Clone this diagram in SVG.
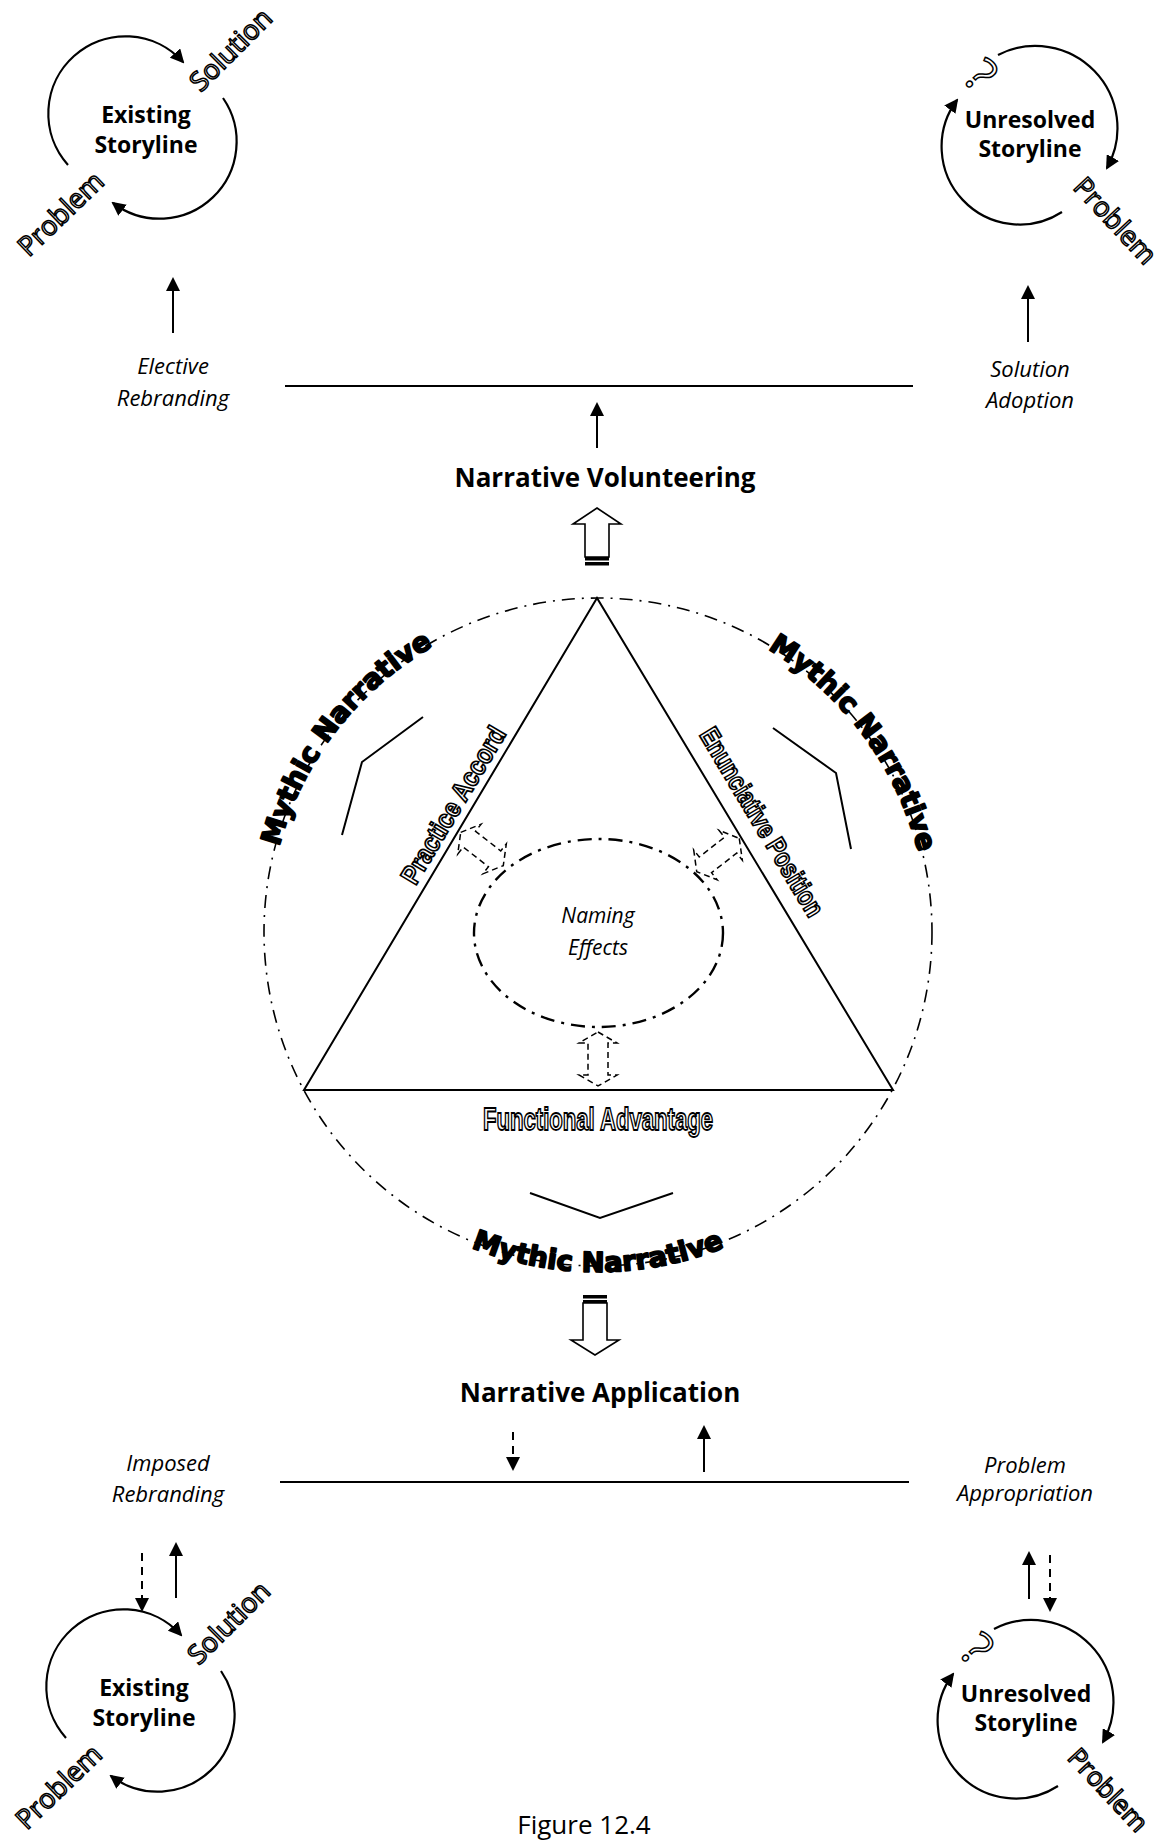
<svg xmlns="http://www.w3.org/2000/svg" width="1170" height="1841" viewBox="0 0 1170 1841">
  <defs>
    <style>
      .ln { fill: none; stroke: #000; stroke-width: 2; }
      .dash { fill: none; stroke: #000; stroke-width: 2; stroke-dasharray: 8 6; }
      .arc { fill: none; stroke: #000; stroke-width: 2.2; }
      .lbl { font-family: "Open Sans", "Liberation Sans", sans-serif; font-size: 22px; font-style: italic; fill: #000; text-anchor: middle; }
      .title { font-family: "Open Sans", "Liberation Sans", sans-serif; font-size: 26px; font-weight: bold; fill: #000; text-anchor: middle; }
      .story { font-family: "Open Sans", "Liberation Sans", sans-serif; font-size: 23px; font-weight: bold; fill: #000; text-anchor: middle; }
      .ol { font-family: "Open Sans", "Liberation Sans", sans-serif; font-size: 27px; fill: #fff; stroke: #000; stroke-width: 1.5; text-anchor: middle; }
      .cond { font-family: "Liberation Sans", "Arial", sans-serif; font-weight: bold; fill: #fff; stroke: #000; stroke-width: 1.8; }
      .myth { font-family: "DejaVu Sans", "Liberation Sans", sans-serif; font-weight: bold; font-size: 27.5px; fill: #000; stroke: #000; stroke-width: 1.8; stroke-linejoin: round; text-anchor: middle; }
      .block { fill: #fff; stroke: #000; stroke-width: 1.6; }
      .dblk { fill: none; stroke: #000; stroke-width: 1.5; stroke-dasharray: 6 4; }
    </style>
    <marker id="ah" viewBox="0 0 14 14" refX="12" refY="7" markerWidth="14" markerHeight="14" markerUnits="userSpaceOnUse" orient="auto">
      <path d="M0,0 L14,7 L0,14 z" fill="#000"/>
    </marker>
    <!-- hollow dashed double-headed arrow, drawn around its own centre -->
    <polygon id="dbl" class="dblk" points="0,-27 19,-16 10,-16 10,16 19,16 0,27 -19,16 -10,16 -10,-16 -19,-16"/>
    <!-- circle paths carrying the arched labels -->
    <path id="archL" d="M283.3,1031.2 A330,330 0 0 1 612.4,602.3"/>
    <path id="archR" d="M589.4,602.1 A330,330 0 0 1 910.9,1036.7"/>
    <path id="archB" d="M319.5,1127 A340,340 0 0 0 876.5,1127"/>
  </defs>

  <rect width="1170" height="1841" fill="#fff"/>

  <!-- existing storyline, upper left -->
  <g id="existing-top">
    <path class="arc" d="M68,165 A77,77 0 0 1 183,62" marker-end="url(#ah)"/>
    <path class="arc" d="M223,98 A77,77 0 0 1 113,203" marker-end="url(#ah)"/>
    <text class="story" x="146" y="123">Existing</text>
    <text class="story" x="146" y="153">Storyline</text>
    <text class="ol" transform="translate(231,50) rotate(-45)" y="9">Solution</text>
    <text class="ol" transform="translate(61,214) rotate(-44)" y="9">Problem</text>
  </g>

  <!-- unresolved storyline, upper right -->
  <g id="unresolved-top">
    <path class="arc" d="M998,55 A82,82 0 0 1 1107,168" marker-end="url(#ah)"/>
    <path class="arc" d="M1062,212 A78,78 0 0 1 957,100" marker-end="url(#ah)"/>
    <text class="story" x="1030" y="128">Unresolved</text>
    <text class="story" x="1030" y="157">Storyline</text>
    <text class="ol" transform="translate(981,75) rotate(45)" y="17" style="font-size:48px">?</text>
    <text class="ol" transform="translate(1115,221) rotate(47)" y="9">Problem</text>
  </g>

  <!-- existing storyline, lower left -->
  <g id="existing-bottom" transform="translate(-2,1573)">
    <path class="arc" d="M68,165 A77,77 0 0 1 183,62" marker-end="url(#ah)"/>
    <path class="arc" d="M223,98 A77,77 0 0 1 113,203" marker-end="url(#ah)"/>
    <text class="story" x="146" y="123">Existing</text>
    <text class="story" x="146" y="153">Storyline</text>
    <text class="ol" transform="translate(231,50) rotate(-45)" y="9">Solution</text>
    <text class="ol" transform="translate(61,214) rotate(-44)" y="9">Problem</text>
  </g>

  <!-- unresolved storyline, lower right -->
  <g id="unresolved-bottom" transform="translate(-4,1574)">
    <path class="arc" d="M998,55 A82,82 0 0 1 1107,168" marker-end="url(#ah)"/>
    <path class="arc" d="M1062,212 A78,78 0 0 1 957,100" marker-end="url(#ah)"/>
    <text class="story" x="1030" y="128">Unresolved</text>
    <text class="story" x="1030" y="157">Storyline</text>
    <text class="ol" transform="translate(981,75) rotate(45)" y="17" style="font-size:48px">?</text>
    <text class="ol" transform="translate(1112,216) rotate(47)" y="9" style="font-size:26px">Problem</text>
  </g>

  <!-- side labels -->
  <g id="elective-rebranding">
    <text class="lbl" x="173" y="374">Elective</text>
    <text class="lbl" x="173" y="406">Rebranding</text>
  </g>
  <g id="solution-adoption">
    <text class="lbl" x="1030" y="377">Solution</text>
    <text class="lbl" x="1030" y="408">Adoption</text>
  </g>
  <g id="imposed-rebranding">
    <text class="lbl" x="168" y="1471">Imposed</text>
    <text class="lbl" x="168" y="1502">Rebranding</text>
  </g>
  <g id="problem-appropriation">
    <text class="lbl" x="1025" y="1473">Problem</text>
    <text class="lbl" x="1025" y="1501">Appropriation</text>
  </g>

  <g id="narrative-volunteering">
    <text class="title" x="605" y="487">Narrative Volunteering</text>
  </g>
  <g id="narrative-application">
    <text class="title" x="600" y="1402">Narrative Application</text>
  </g>

  <!-- central figure: mythic narrative circle, triangle and naming effects -->
  <g id="mythic-narrative">
    <circle cx="598" cy="932" r="334" fill="none" stroke="#000" stroke-width="1.6" stroke-dasharray="13 7 2 7"/>
    <text class="myth"><textPath href="#archL" startOffset="50%">Mythic Narrative</textPath></text>
    <text class="myth"><textPath href="#archR" startOffset="50%">Mythic Narrative</textPath></text>
    <text class="myth"><textPath href="#archB" startOffset="50%">Mythic Narrative</textPath></text>
    <polyline class="ln" points="423,717 362,762 342,835"/>
    <polyline class="ln" points="773,728 836,773 851,849"/>
    <polyline class="ln" points="530,1193 600,1218 673,1193"/>
  </g>

  <g id="triangle">
    <polygon points="597,598 304,1090 893,1090" fill="none" stroke="#000" stroke-width="2"/>
    <text class="cond" transform="translate(468,814) rotate(-59.1)" x="0" y="-8" text-anchor="middle" font-size="27" textLength="178" lengthAdjust="spacingAndGlyphs">Practice Accord</text>
    <text class="cond" transform="translate(742,834) rotate(59.05)" x="0" y="-14" text-anchor="middle" font-size="27" textLength="215" lengthAdjust="spacingAndGlyphs">Enunciative Position</text>
    <text class="cond" x="598" y="1130" text-anchor="middle" font-size="32" textLength="230" lengthAdjust="spacingAndGlyphs">Functional Advantage</text>
  </g>

  <g id="naming-effects">
    <ellipse cx="598.5" cy="933" rx="124.5" ry="94" fill="none" stroke="#000" stroke-width="2.4" stroke-dasharray="14 7 3 7"/>
    <text class="lbl" x="598" y="923" style="font-size:21px">Naming</text>
    <text class="lbl" x="598" y="955" style="font-size:21px">Effects</text>
  </g>

  <!-- connectors -->
  <g id="connectors">
    <!-- horizontal bars -->
    <line class="ln" x1="285" y1="386" x2="913" y2="386"/>
    <line class="ln" x1="280" y1="1482" x2="909" y2="1482"/>

    <!-- upper arrows -->
    <line class="ln" x1="173" y1="333" x2="173" y2="279" marker-end="url(#ah)"/>
    <line class="ln" x1="1028" y1="342" x2="1028" y2="287" marker-end="url(#ah)"/>
    <line class="ln" x1="597" y1="448" x2="597" y2="404" marker-end="url(#ah)"/>

    <!-- lower arrows -->
    <line class="dash" x1="513" y1="1432" x2="513" y2="1469" marker-end="url(#ah)"/>
    <line class="ln" x1="704" y1="1472" x2="704" y2="1427" marker-end="url(#ah)"/>
    <line class="dash" x1="142" y1="1553" x2="142" y2="1610" marker-end="url(#ah)"/>
    <line class="ln" x1="176" y1="1598" x2="176" y2="1544" marker-end="url(#ah)"/>
    <line class="ln" x1="1029" y1="1599" x2="1029" y2="1553" marker-end="url(#ah)"/>
    <line class="dash" x1="1050" y1="1555" x2="1050" y2="1610" marker-end="url(#ah)"/>

    <!-- striped block arrow up -->
    <polygon class="block" points="597,508 621,524 609,524 609,557 585,557 585,524 573,524"/>
    <rect x="585" y="557" width="24" height="3.5" fill="#000"/>
    <rect x="585" y="562" width="24" height="3.5" fill="#000"/>

    <!-- striped block arrow down -->
    <polygon class="block" points="583,1303 607,1303 607,1340 619,1340 595,1355 571,1340 583,1340"/>
    <rect x="583" y="1295" width="24" height="3.5" fill="#000"/>
    <rect x="583" y="1300" width="24" height="3" fill="#000"/>

    <!-- dashed double arrows around naming effects -->
    <use href="#dbl" transform="translate(598,1059)"/>
    <use href="#dbl" transform="translate(482,849) rotate(-52)"/>
    <use href="#dbl" transform="translate(718,855) rotate(52)"/>
  </g>

  <text x="584" y="1834" text-anchor="middle" font-family="Open Sans, Liberation Sans, sans-serif" font-size="26" fill="#000">Figure 12.4</text>
</svg>
